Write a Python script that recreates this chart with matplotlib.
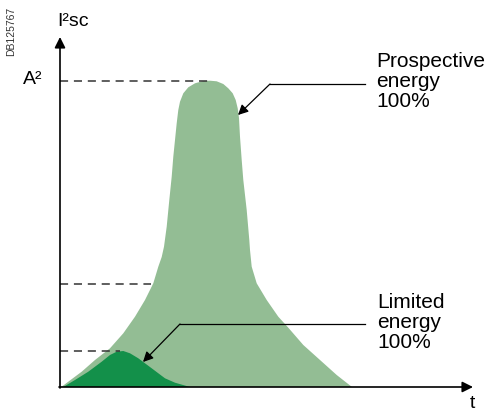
import matplotlib
matplotlib.use("Agg")
import matplotlib.pyplot as plt

plt.rcParams['font.family'] = ['Liberation Sans', 'DejaVu Sans']

# prospective energy curve (time, I2t)
prosp_t = [0, 1.7, 8.3, 21.7, 35, 50, 63.3, 75, 85, 93.3, 98.3, 101.7, 104, 106.7,
           109.3, 111.7, 113.3, 115, 116.7, 118.3, 120, 123.3, 128.3, 135, 143.3,
           150, 156.7, 163.3, 168.3, 172.7, 175.7, 177.7, 179, 180, 181.7, 183.3,
           186.7, 189.3, 190, 191.7, 196.7, 206.7, 218.3, 228.3, 243.3, 260,
           276.7, 292]
prosp_e = [0, 0.3, 5.3, 15.3, 27, 38.7, 53.7, 70.3, 87, 103.7, 120.3, 130, 140.3,
           160.3, 187, 210.3, 230.3, 247, 263.7, 277, 285.3, 293.7, 299.7, 303.7,
           306, 306.3, 305.7, 303, 298.7, 293.7, 287, 278.7, 269, 250.3, 227, 207,
           177, 147, 137, 120.3, 103.7, 87, 70.3, 59.3, 42, 27,
           12, 0]

# limited energy curve
lim_t = [3.3, 15, 28.3, 41.7, 50, 56.7, 63.3, 70, 78.3, 91.7, 105, 115, 130]
lim_e = [0, 7, 15.3, 25.3, 32, 35.3, 36, 33.7, 28.7, 18.7, 8.7, 4.3, 0]

# dashed reference levels and where each one stops
levels = [306, 103, 36]
level_ends = [150, 91, 60]

light_green = '#93BD94'
dark_green = '#13904A'

fig = plt.figure(figsize=(4.88, 4.12), dpi=100)
ax = fig.add_axes([0, 0, 1, 1])
ax.set_xlim(-60, 428)
ax.set_ylim(-25, 387)
ax.axis('off')

ax.fill(prosp_t, prosp_e, color=light_green, lw=0)
ax.fill(lim_t, lim_e, color=dark_green, lw=0)

for lev, end in zip(levels, level_ends):
    ax.plot([0, end], [lev, lev], color='#333333', lw=1.1, dashes=(5.3, 3.8))

# axes with arrows
ax.annotate('', xy=(0, 350), xytext=(0, -1),
            arrowprops=dict(arrowstyle='-|>', color='black', lw=1.2,
                            mutation_scale=16, shrinkA=0, shrinkB=0))
ax.annotate('', xy=(413, 0), xytext=(-1, 0),
            arrowprops=dict(arrowstyle='-|>', color='black', lw=1.2,
                            mutation_scale=16, shrinkA=0, shrinkB=0))

# callouts
ax.plot([305, 210], [303, 303], color='black', lw=0.9)
ax.annotate('', xy=(178, 272), xytext=(210, 303),
            arrowprops=dict(arrowstyle='-|>', color='black', lw=0.9,
                            mutation_scale=15, shrinkA=0, shrinkB=0))
ax.plot([305, 120], [63, 63], color='black', lw=0.9)
ax.annotate('', xy=(83, 25), xytext=(120, 63),
            arrowprops=dict(arrowstyle='-|>', color='black', lw=0.9,
                            mutation_scale=15, shrinkA=0, shrinkB=0))

ax.text(316, 335, 'Prospective\nenergy\n100%', fontsize=15, va='top',
        ha='left', linespacing=1.08)
ax.text(317, 94, 'Limited\nenergy\n100%', fontsize=15, va='top',
        ha='left', linespacing=1.08)

ax.text(-3, 361, 'I²sc', fontsize=14, ha='left', va='baseline')
ax.text(-37, 303, 'A²', fontsize=14, ha='left', va='baseline')
ax.text(410, -21, 't', fontsize=14, ha='left', va='baseline')
ax.text(-49, 356, 'DB125767', fontsize=7.5, rotation=90, ha='center',
        va='center', color='#333333')

fig.savefig('out.png', dpi=100)
